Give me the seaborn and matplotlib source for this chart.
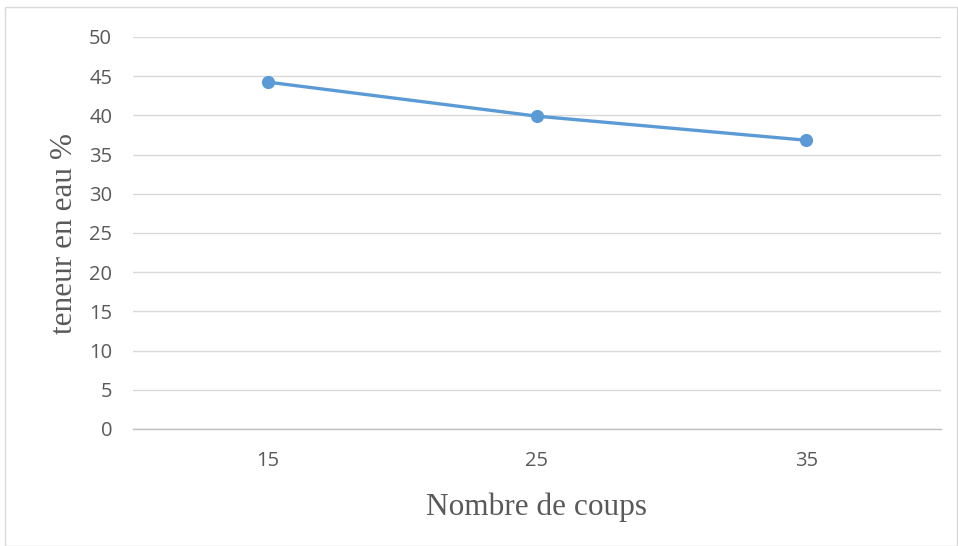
import matplotlib
matplotlib.use("Agg")
import matplotlib.pyplot as plt
import seaborn as sns
import pandas as pd
from matplotlib.patches import Rectangle

categories = ["15", "25", "35"]
values = [44.25, 39.9, 36.83]
yticks = [0, 5, 10, 15, 20, 25, 30, 35, 40, 45, 50]

sns.set_theme(style="white")
plt.rcParams['font.family'] = ['Open Sans', 'DejaVu Sans']

df = pd.DataFrame({"coups": categories, "teneur": values})

fig = plt.figure(figsize=(9.58, 5.46), dpi=100)
ax = fig.add_axes([133/958, 1 - 429/546, (941-133)/958, (429-37)/546])

sns.lineplot(data=df, x="coups", y="teneur", ax=ax, color="#5B9BD5",
             linewidth=2.4, marker="o", markersize=9.5, markeredgewidth=0,
             sort=False)

ax.set_ylim(0, 50)
ax.set_xlim(-0.5, 2.5)
ax.set_yticks(yticks)
ax.grid(axis="y", color="#D9D9D9", linewidth=1)
ax.set_axisbelow(True)
for s in ["top", "right", "left"]:
    ax.spines[s].set_visible(False)
ax.spines["bottom"].set_color("#BFBFBF")
ax.spines["bottom"].set_linewidth(1)
ax.tick_params(axis="both", length=0, labelsize=14.5, colors="#595959")
ax.tick_params(axis="y", pad=15)
ax.tick_params(axis="x", pad=16)

ax.set_xlabel("Nombre de coups", fontsize=22.5, family="Liberation Serif",
              color="#595959", labelpad=15)
ax.set_ylabel("teneur en eau %", fontsize=22.5, family="Liberation Serif",
              color="#595959", labelpad=7)

fig.patches.append(Rectangle((5/958, 0), 952/958, 1 - 7/546, transform=fig.transFigure,
                             fill=False, edgecolor="#D9D9D9", linewidth=1))

fig.savefig("out.png", dpi=100)
